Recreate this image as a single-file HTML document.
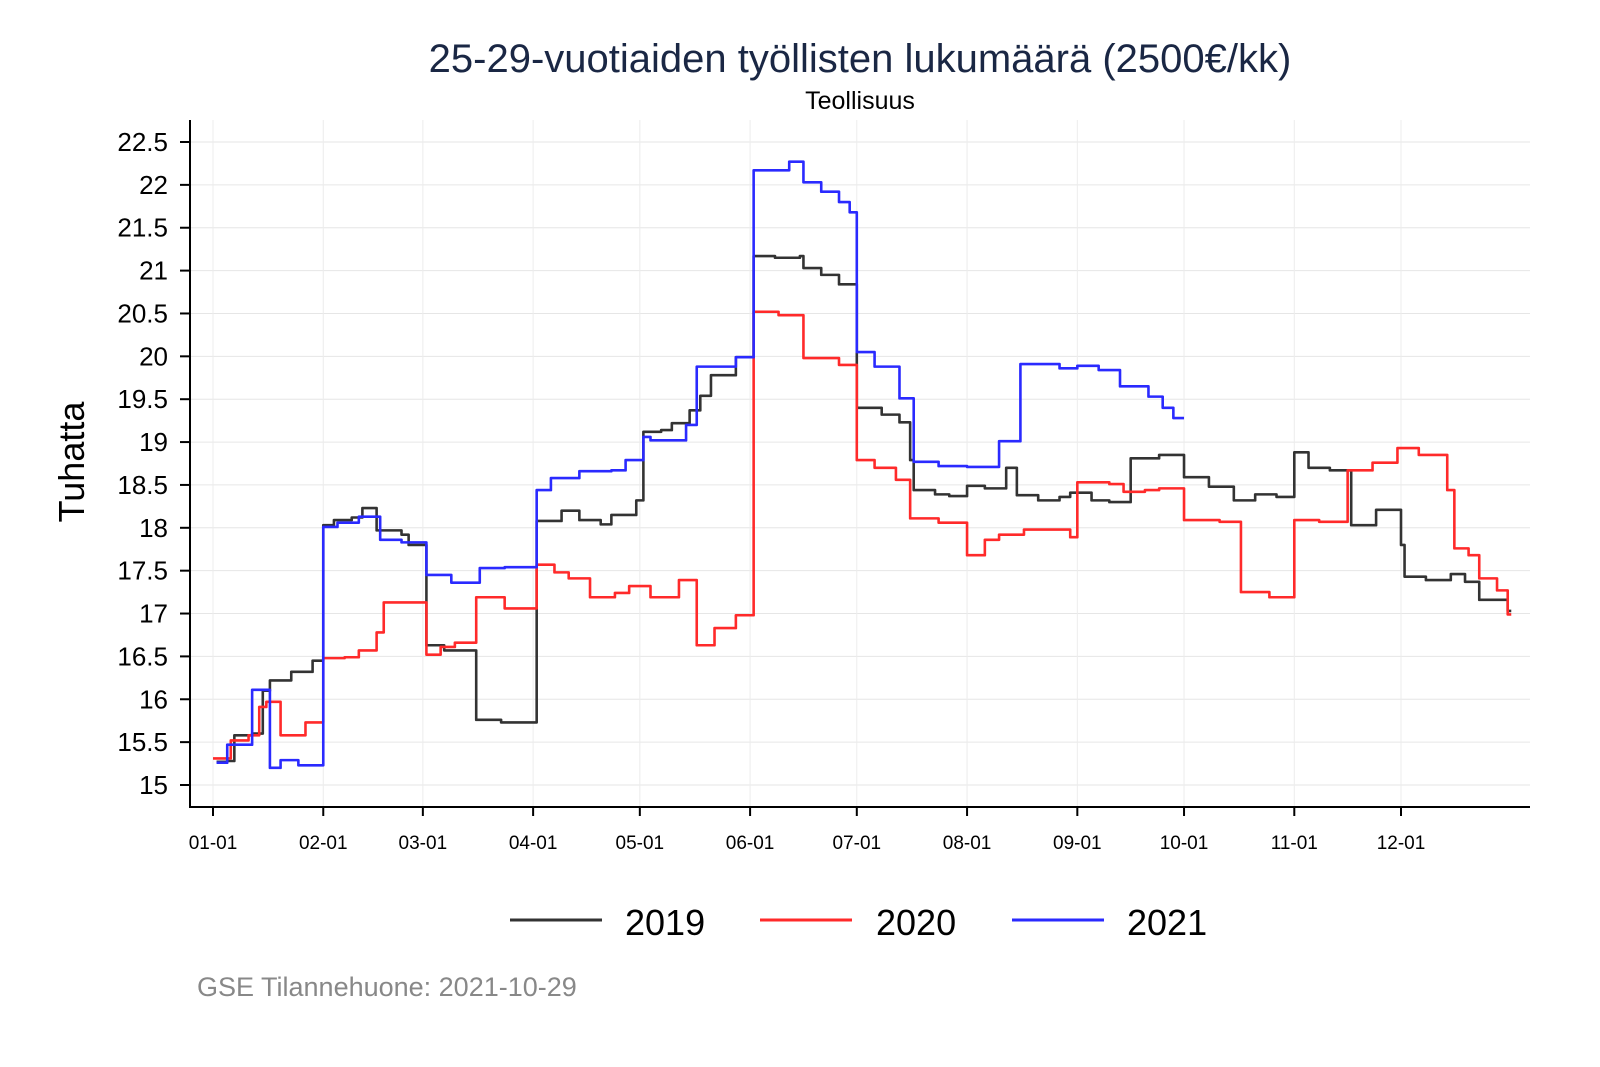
<!DOCTYPE html>
<html><head><meta charset="utf-8"><style>
body{margin:0;background:#fff;}
svg{display:block;font-family:"Liberation Sans",Arial,sans-serif;}
</style></head><body>
<svg id="chart" width="1600" height="1067">
<text x="860" y="72" text-anchor="middle" font-size="40" fill="#1a2744">25-29-vuotiaiden työllisten lukumäärä (2500€/kk)</text>
<text x="860" y="109" text-anchor="middle" font-size="25" fill="#000">Teollisuus</text>
<text transform="translate(84,462) rotate(-90)" text-anchor="middle" font-size="36" fill="#000">Tuhatta</text>
<g id="grid"></g>
<g id="series"></g>
<g id="axes"></g>
<g>
<line x1="510" y1="920" x2="602" y2="920" stroke="#333" stroke-width="3"/>
<text x="625" y="935" font-size="36">2019</text>
<line x1="760" y1="920" x2="852" y2="920" stroke="#ff2a2a" stroke-width="3"/>
<text x="876" y="935" font-size="36">2020</text>
<line x1="1012" y1="920" x2="1104" y2="920" stroke="#2a2aff" stroke-width="3"/>
<text x="1127" y="935" font-size="36">2021</text>
</g>
<text x="197" y="996" font-size="27" fill="#888">GSE Tilannehuone: 2021-10-29</text>
</svg>
<script>
const yTicks=[15,15.5,16,16.5,17,17.5,18,18.5,19,19.5,20,20.5,21,21.5,22,22.5];
const monthLabels=["01-01","02-01","03-01","04-01","05-01","06-01","07-01","08-01","09-01","10-01","11-01","12-01"];
const monthDays=[0,31,59,90,120,151,181,212,243,273,304,334];
const days2019=[1,4,6,11,14,16,22,28,31,34,39,42,46,53,55,60,65,74,81,91,98,103,109,112,119,121,126,129,134,137,140,147,152,158,165,166,171,176,181,188,193,196,197,203,207,212,217,223,226,232,238,241,247,252,258,266,273,280,287,293,299,304,308,314,320,327,334,335,341,348,352,356,364];
const vals2019=[15.27,15.28,15.58,15.6,16.1,16.22,16.32,16.45,18.03,18.09,18.12,18.23,17.97,17.92,17.8,16.63,16.57,15.76,15.73,18.08,18.2,18.09,18.04,18.15,18.32,19.12,19.14,19.22,19.37,19.54,19.78,19.99,21.17,21.15,21.17,21.03,20.95,20.84,19.4,19.32,19.23,18.79,18.44,18.39,18.37,18.49,18.46,18.7,18.38,18.32,18.36,18.41,18.32,18.3,18.81,18.85,18.59,18.48,18.32,18.39,18.36,18.88,18.7,18.67,18.03,18.21,17.8,17.43,17.39,17.46,17.37,17.16,17.03];
const days2020=[0,5,10,13,15,19,26,31,37,41,46,48,60,64,68,74,82,91,96,100,106,113,117,123,131,136,141,147,152,159,166,176,181,186,192,196,204,212,217,221,228,235,241,243,252,256,262,266,273,283,289,297,304,311,319,326,333,339,347,349,353,356,361,364];
const vals2020=[15.31,15.52,15.58,15.91,15.97,15.58,15.73,16.48,16.49,16.57,16.78,17.13,16.52,16.61,16.66,17.19,17.06,17.57,17.48,17.41,17.19,17.24,17.32,17.19,17.39,16.63,16.83,16.98,20.52,20.48,19.98,19.9,18.79,18.7,18.56,18.11,18.06,17.68,17.86,17.92,17.98,17.98,17.89,18.53,18.51,18.42,18.44,18.46,18.09,18.07,17.25,17.19,18.09,18.07,18.67,18.76,18.93,18.85,18.44,17.76,17.68,17.41,17.27,16.99];
const days2021=[1,4,11,16,19,24,31,35,41,47,53,60,67,75,82,91,95,103,112,116,121,123,133,136,147,152,162,166,171,176,179,181,186,193,197,204,212,221,227,238,243,249,255,263,267,270,273];
const vals2021=[15.26,15.47,16.11,15.2,15.29,15.23,18.01,18.06,18.13,17.86,17.83,17.45,17.36,17.53,17.54,18.44,18.58,18.66,18.67,18.79,19.06,19.02,19.2,19.88,19.99,22.17,22.27,22.03,21.92,21.8,21.68,20.05,19.88,19.51,18.77,18.72,18.71,19.01,19.91,19.86,19.89,19.84,19.65,19.53,19.4,19.28,19.28];

const NS="http://www.w3.org/2000/svg";
const L=190,R=1530,T=120,B=807;
const xs=d=>213+d*(1188/334);
const ys=v=>785-(v-15)*(643/7.5);
function mk(tag,attrs,parent){const e=document.createElementNS(NS,tag);for(const k in attrs)e.setAttribute(k,attrs[k]);parent.appendChild(e);return e;}
const grid=document.getElementById('grid'),axes=document.getElementById('axes'),ser=document.getElementById('series');
yTicks.forEach(v=>{
  const g=mk('line',{x1:L,x2:R,y1:ys(v),y2:ys(v),stroke:'#e6e6e6','stroke-width':1},grid);
  
  
  const t=mk('line',{x1:180,x2:L,y1:ys(v),y2:ys(v),stroke:'#000','stroke-width':2},axes);
  
  
  const tx=mk('text',{x:168,y:ys(v)+9,'text-anchor':'end','font-size':26},axes);
  tx.textContent=String(v);
  
  
});
monthDays.forEach((d,i)=>{
  const g=mk('line',{x1:xs(d),x2:xs(d),y1:T,y2:B,stroke:'#ececec','stroke-width':1},grid);
  
  
  const t=mk('line',{x1:xs(d),x2:xs(d),y1:B,y2:B+9,stroke:'#000','stroke-width':2},axes);
  
  
  const tx=mk('text',{x:xs(d),y:849,'text-anchor':'middle','font-size':19},axes);
  tx.textContent=monthLabels[i];
  
  
});
const ax=mk('path',{d:`M${L},${T}V${B}H${R}`,fill:'none',stroke:'#000','stroke-width':2},axes);


function step(days,vals,endDay){
  let d=`M${xs(days[0])},${ys(vals[0])}`;
  for(let i=1;i<days.length;i++){d+=`H${xs(days[i])}V${ys(vals[i])}`;}
  d+=`H${xs(endDay)}`;return d;
}
[[days2019,vals2019,'#333','line-2019',365],[days2020,vals2020,'#ff2a2a','line-2020',365],[days2021,vals2021,'#2a2aff','line-2021',273]].forEach(s=>{
  const p=mk('path',{d:step(s[0],s[1],s[4]),fill:'none',stroke:s[2],'stroke-width':2.6,'stroke-linejoin':'round'},ser);
  
  
});
</script>
</body></html>
